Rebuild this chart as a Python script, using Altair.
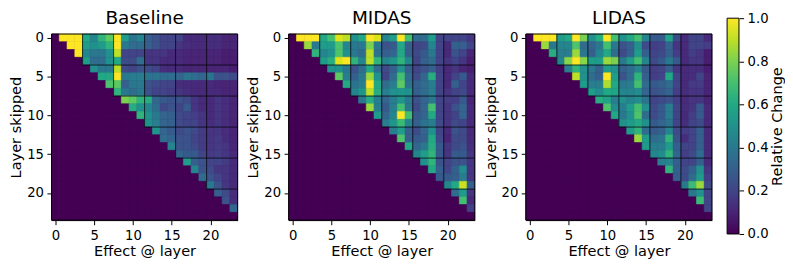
import altair as alt
import pandas as pd

titles = ["Baseline", "MIDAS", "LIDAS"]
n_layers = 24
blocks = [3.5, 7.5, 11.5, 15.5, 19.5]
ticks = [0, 5, 10, 15, 20]
cbar_ticks = [0, 0.2, 0.4, 0.6, 0.8, 1.0]
viridis = ["#440154", "#482475", "#414487", "#355f8d", "#2a788e", "#21918c",
           "#22a884", "#44bf70", "#7ad151", "#bddf26", "#fde725"]

# each row lists the cells right of the diagonal (col = row+1 ... 23)
baseline = [
 [1,1,1,.6,.45,.65,.75,1,.55,.38,.45,.3,.25,.2,.2,.2,.12,.12,.12,.13,.13,.1,.1],
 [1,1,.55,.5,.55,.65,1,.4,.35,.35,.3,.25,.2,.2,.15,.13,.12,.12,.13,.13,.1,.1],
 [1,.45,.4,.4,.5,.9,.2,.2,.2,.15,.15,.15,.12,.12,.1,.1,.1,.1,.1,.08,.08],
 [.55,.35,.35,.5,.6,.22,.22,.35,.15,.15,.12,.12,.12,.1,.1,.1,.1,.1,.08,.08],
 [.5,.4,.4,.9,.22,.2,.25,.22,.2,.13,.12,.12,.1,.1,.1,.1,.1,.1,.08],
 [.6,.6,1,.4,.42,.42,.38,.38,.35,.35,.32,.38,.35,.32,.38,.25,.25,.22],
 [.72,.75,.3,.4,.4,.25,.22,.2,.2,.13,.12,.12,.12,.12,.1,.1,.1],
 [.65,.4,.35,.4,.25,.2,.2,.18,.15,.13,.12,.12,.12,.12,.1,.1],
 [.8,.75,.65,.62,.32,.28,.25,.25,.22,.15,.12,.12,.15,.13,.1],
 [.62,.5,.45,.35,.22,.25,.2,.28,.15,.12,.12,.15,.13,.1],
 [.65,.5,.4,.32,.3,.22,.2,.18,.15,.12,.15,.13,.1],
 [.5,.42,.32,.3,.22,.2,.2,.15,.13,.15,.13,.1],
 [.52,.32,.28,.22,.25,.22,.17,.15,.15,.13,.1],
 [.35,.32,.25,.25,.2,.17,.15,.17,.13,.1],
 [.45,.25,.25,.22,.17,.15,.17,.15,.1],
 [.32,.28,.28,.2,.17,.18,.15,.12],
 [.55,.3,.25,.2,.2,.17,.12],
 [.45,.25,.22,.15,.15,.12],
 [.35,.25,.2,.15,.12],
 [.4,.25,.15,.12],
 [.3,.22,.13],
 [.25,.13],
 [.33],
]
midas = [
 [1,1,1,.6,.7,.95,.9,.5,.6,1,.95,.45,.55,1,.7,.35,.35,.55,.2,.2,.2,.2,.15],
 [.85,.4,.55,.55,.72,.45,.4,.4,.8,.4,.25,.28,.6,.3,.2,.22,.45,.2,.12,.3,.3,.2],
 [.65,.45,.5,.72,.5,.4,.35,.9,.38,.3,.32,.6,.3,.22,.28,.4,.2,.12,.25,.2,.1],
 [.55,.62,.95,1,.65,.45,.9,.65,.45,.52,.65,.45,.2,.3,.35,.2,.15,.2,.15,.08],
 [.5,.5,.4,.25,.35,.6,.35,.22,.3,.5,.3,.2,.25,.3,.18,.12,.15,.1,.08],
 [.75,.42,.3,.4,.85,.5,.2,.35,.7,.35,.22,.32,.62,.2,.12,.2,.28,.12],
 [.6,.38,.42,1,.6,.35,.42,.75,.38,.3,.35,.42,.2,.12,.3,.2,.12],
 [.45,.52,.9,.62,.42,.5,.52,.5,.3,.35,.42,.2,.15,.2,.22,.12],
 [.4,.62,.42,.32,.42,.52,.4,.25,.32,.4,.2,.18,.18,.28,.1],
 [.85,.42,.28,.42,.7,.4,.22,.32,.7,.2,.15,.25,.32,.12],
 [.55,.32,.45,1,.7,.28,.32,.6,.2,.15,.2,.32,.12],
 [.42,.52,.68,.45,.3,.38,.42,.22,.15,.22,.2,.12],
 [.42,.55,.3,.22,.32,.5,.2,.12,.25,.22,.12],
 [.72,.3,.28,.3,.6,.22,.1,.22,.22,.12],
 [.6,.32,.4,.62,.28,.15,.22,.25,.13],
 [.45,.55,.65,.28,.15,.28,.28,.15],
 [.5,.65,.25,.2,.25,.25,.15],
 [.6,.3,.2,.3,.48,.15],
 [.28,.28,.3,.42,.15],
 [.45,.6,.92,.3],
 [.35,.55,.15],
 [.7,.12],
 [.18],
]
lidas = [
 [1,1,1,.55,.6,1,.8,.5,.62,1,.7,.5,.6,.7,.45,.28,.28,.58,.22,.12,.2,.2,.12],
 [.85,.4,.45,.45,.72,.35,.32,.4,.7,.4,.25,.3,.5,.22,.18,.2,.32,.15,.12,.2,.2,.18],
 [.62,.42,.42,.85,.4,.3,.45,.6,.35,.22,.3,.55,.3,.2,.22,.3,.18,.12,.18,.15,.08],
 [.45,.82,1,.82,.55,.55,.85,.8,.4,.55,.7,.45,.22,.28,.4,.28,.12,.15,.15,.08],
 [.42,.65,.5,.4,.3,.55,.5,.3,.35,.45,.28,.18,.2,.3,.15,.12,.13,.13,.08],
 [.9,.5,.35,.3,1,.55,.25,.35,.65,.3,.18,.2,.6,.2,.12,.13,.2,.1],
 [.55,.42,.42,.88,.6,.4,.42,.7,.35,.28,.3,.35,.2,.12,.17,.17,.1],
 [.55,.48,.6,.58,.45,.45,.48,.32,.25,.28,.32,.18,.13,.15,.15,.1],
 [.62,.58,.42,.5,.45,.48,.38,.2,.22,.25,.18,.12,.15,.15,.1],
 [.72,.48,.42,.55,.7,.5,.22,.28,.42,.2,.13,.15,.28,.12],
 [.6,.4,.5,.72,.35,.22,.28,.42,.2,.12,.18,.28,.12],
 [.5,.55,.6,.5,.28,.32,.38,.2,.13,.2,.22,.12],
 [.55,.65,.35,.28,.3,.45,.22,.18,.2,.3,.12],
 [.85,.55,.35,.38,.65,.25,.13,.2,.3,.12],
 [.55,.42,.42,.55,.3,.2,.2,.3,.12],
 [.45,.48,.65,.32,.18,.22,.35,.12],
 [.42,.45,.3,.2,.2,.3,.12],
 [.65,.3,.22,.3,.5,.15],
 [.3,.22,.35,.55,.18],
 [.4,.68,.85,.22],
 [.4,.5,.2],
 [.68,.2],
 [.2],
]

FONT = "DejaVu Sans"
SIDE = 188
TICK = 13.33
LABEL = 14.67


def table(rows):
    recs = []
    for r in range(n_layers):
        tail = rows[r] if r < len(rows) else []
        for c in range(n_layers):
            v = tail[c - r - 1] if c > r else 0
            recs.append({"x0": c - 0.5, "x1": c + 0.5, "y0": r - 0.5, "y1": r + 0.5, "v": v})
    return pd.DataFrame(recs)


def panel(title, rows):
    xs = alt.Scale(domain=[-0.5, n_layers - 0.5], nice=False, zero=False)
    ys = alt.Scale(domain=[n_layers - 0.5, -0.5], nice=False, zero=False)
    color = alt.Color("v:Q", scale=alt.Scale(scheme="viridis", domain=[0, 1]), legend=None)
    frame_df = pd.DataFrame({"a": [-0.5], "b": [n_layers - 0.5]})
    under = alt.Chart(frame_df).mark_rect(color=viridis[0]).encode(
        x=alt.X("a:Q", scale=xs), x2="b:Q", y=alt.Y("a:Q", scale=ys), y2="b:Q")
    cells = alt.Chart(table(rows)).mark_rect(strokeWidth=0.6).encode(
        x=alt.X("x0:Q", scale=xs, title="Effect @ layer",
                axis=alt.Axis(values=ticks, grid=False, tickSize=4.67, labelPadding=3.5, titlePadding=2,
                              labelFontSize=TICK, titleFontSize=LABEL, labelFont=FONT, titleFont=FONT,
                              titleFontWeight="normal", domainColor="black", tickColor="black",
                              labelColor="black", titleColor="black", labelAngle=0)),
        x2="x1:Q",
        y=alt.Y("y0:Q", scale=ys, title="Layer skipped",
                axis=alt.Axis(values=ticks, grid=False, tickSize=4.67, labelPadding=3.5, titlePadding=3,
                              labelFontSize=TICK, titleFontSize=LABEL, labelFont=FONT, titleFont=FONT,
                              titleFontWeight="normal", domainColor="black", tickColor="black",
                              labelColor="black", titleColor="black")),
        y2="y1:Q",
        color=color,
        stroke=color,
    )
    bdf = pd.DataFrame({"b": blocks, "lo": [-0.5] * len(blocks), "hi": [n_layers - 0.5] * len(blocks)})
    vert = alt.Chart(bdf).mark_rule(color="black", opacity=0.7, strokeWidth=1).encode(
        x=alt.X("b:Q", scale=xs), y=alt.Y("lo:Q", scale=ys), y2="b:Q")
    horiz = alt.Chart(bdf).mark_rule(color="black", opacity=0.7, strokeWidth=1).encode(
        y=alt.Y("b:Q", scale=ys), x=alt.X("b:Q", scale=xs), x2="hi:Q")
    frame = alt.Chart(frame_df).mark_rect(filled=False, stroke="black", strokeWidth=1).encode(
        x=alt.X("a:Q", scale=xs), x2="b:Q", y=alt.Y("a:Q", scale=ys), y2="b:Q")
    return alt.layer(under, cells, vert, horiz, frame).properties(
        width=SIDE, height=SIDE,
        title=alt.TitleParams(title, fontSize=18.67, fontWeight="normal", font=FONT, color="black",
                              offset=0, dy=-3),
    )


stops = [alt.GradientStop(offset=i / (len(viridis) - 1), color=c) for i, c in enumerate(viridis)]
bar_df = pd.DataFrame({"a": [0.0], "b": [1.0]})
cbar = alt.Chart(bar_df).mark_rect(
    color=alt.LinearGradient(gradient="linear", x1=0, x2=0, y1=1, y2=0, stops=stops),
    stroke="black", strokeWidth=1,
).encode(
    x=alt.value(0), x2=alt.value(12),
    y=alt.Y("a:Q", scale=alt.Scale(domain=[0, 1], range=[202, -16], nice=False), title="Relative Change",
            axis=alt.Axis(orient="right", values=cbar_ticks, format=".1f", grid=False, tickSize=4.67,
                          labelPadding=3.5, titlePadding=2, labelFontSize=TICK, titleFontSize=LABEL,
                          labelFont=FONT, titleFont=FONT, titleFontWeight="normal", domain=False,
                          tickColor="black", labelColor="black", titleColor="black", titleAngle=270,
                          titleBaseline="top")),
    y2="b:Q",
).properties(width=12, height=SIDE)

panels = alt.hconcat(*[panel(t, r) for t, r in zip(titles, [baseline, midas, lidas])], spacing=6.6)
chart = alt.hconcat(panels, cbar, spacing=13.5).properties(
    padding={"left": 0, "right": 0, "top": 0, "bottom": 0}
).configure_view(strokeWidth=0)

chart.save("out.html", embed_options={"renderer": "svg", "actions": False})
